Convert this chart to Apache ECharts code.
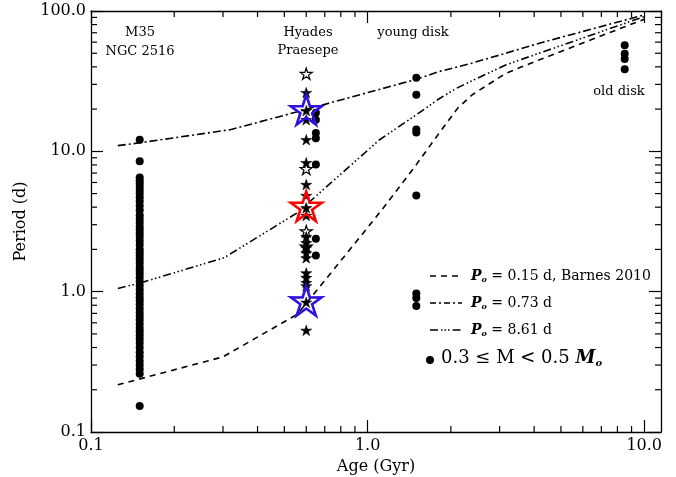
<!DOCTYPE html>
<html>
<head>
<meta charset="utf-8">
<script src="https://cdn.jsdelivr.net/npm/echarts@6/dist/echarts.min.js"></script>
<style>html,body{margin:0;padding:0;background:#fff}#c{width:676px;height:477px}</style>
</head>
<body>
<div id="c"></div>
<script>
// ---- data ----
const m35Age = 0.15;
const m35Periods = [12.1, 8.5, 6.5, 6.2, 5.9, 5.6, 5.3, 5.0, 4.7, 4.4, 4.1, 3.8, 3.5, 3.3, 3.1, 2.9, 2.75, 2.6, 2.45, 2.3, 2.15, 2.0, 1.9, 1.8, 1.7, 1.6, 1.5, 1.42, 1.34, 1.26, 1.18, 1.1, 1.03, 0.97, 0.91, 0.86, 0.81, 0.76, 0.71, 0.67, 0.63, 0.59, 0.55, 0.52, 0.49, 0.46, 0.43, 0.40, 0.37, 0.345, 0.32, 0.30, 0.28, 0.26, 0.153];
const hyadesStarAge = 0.6;
const hyadesFilledStars = [26.2, 19.5, 16.8, 12.1, 8.3, 5.8, 4.84, 3.96, 3.49, 2.46, 2.23, 2.05, 1.89, 1.74, 1.36, 1.26, 1.16, 1.1, 0.84, 0.53];
const hyadesOpenStars = [35.7, 7.5, 2.7, 2.1];
const bigBlueStars = [19.8, 0.86];
const bigRedStars = [4.06];
const hyadesDotAge = 0.65;
const hyadesDots = [18.8, 16.8, 13.5, 12.4, 8.05, 2.38, 1.81];
const youngDiskAge = 1.5;
const youngDiskPeriods = [33.4, 25.3, 14.3, 13.6, 4.84, 0.97, 0.90, 0.79];
const oldDiskAge = 8.5;
const oldDiskPeriods = [57, 49.5, 45.5, 38.5];

const dashAges   = [0.125, 0.3, 0.557, 0.66, 1.0, 1.152, 1.5, 1.82, 2.12, 2.39, 3.17, 4.18, 10.0];
const dashP      = [0.217, 0.343, 0.69, 1.04, 2.86, 4.06, 8.04, 13.6, 20.4, 25.3, 36.1, 44.9, 87.4];
const dashDotAges = [0.125, 0.15, 0.321, 0.6, 1.5, 1.82, 2.39, 3.17, 4.18, 10.0];
const dashDotP    = [10.98, 11.5, 14.3, 19.9, 32.6, 37.1, 42.6, 50.1, 59.0, 93.8];
const dash3Ages  = [0.125, 0.15, 0.303, 0.557, 0.66, 1.105, 1.5, 1.82, 2.1, 2.39, 3.17, 4.18, 10.0];
const dash3P     = [1.055, 1.15, 1.745, 3.65, 4.92, 12.1, 18.2, 23.8, 28.2, 31.9, 41.4, 50.1, 91.2];

const xMinorTicks = [0.2,0.3,0.4,0.5,0.6,0.7,0.8,0.9,2,3,4,5,6,7,8,9];
const yMinorTicks = [0.2,0.3,0.4,0.5,0.6,0.7,0.8,0.9,2,3,4,5,6,7,8,9,20,30,40,50,60,70,80,90];

// ---- chart ----
const FONT = 'DejaVu Serif';
const STAR = 'path://M50,0L61.17,34.63L97.55,34.55L68.07,55.87L79.39,90.45L50,69L20.61,90.45L31.93,55.87L2.45,34.55L38.83,34.63Z';
const XMIN = 0.1, XMAX = 11.5, YMIN = 0.1, YMAX = 100;

const pairs = (age, arr) => arr.map(v => [age, v]);
const zip = (a, b) => a.map((v, i) => [v, b[i]]);

const chart = echarts.init(document.getElementById('c'), null, {renderer: 'canvas'});

function baseX(pos) {
  return {
    type: 'log', logBase: 10, min: XMIN, max: XMAX, interval: 1, position: pos,
    axisLine: {show: true, onZero: false, lineStyle: {color: '#000', width: 1.3}},
    axisTick: {show: true, inside: true, length: 12, lineStyle: {color: '#000', width: 1.2}},
    splitLine: {show: false},
    axisLabel: {show: pos === 'bottom', showMaxLabel: false, formatter: v => Number(v).toFixed(1),
      fontFamily: FONT, fontSize: 16, color: '#000', margin: 6}
  };
}
function baseY(pos) {
  return {
    type: 'log', logBase: 10, min: YMIN, max: YMAX, interval: 1, position: pos,
    axisLine: {show: true, onZero: false, lineStyle: {color: '#000', width: 1.3}},
    axisTick: {show: true, inside: true, length: 12, lineStyle: {color: '#000', width: 1.2}},
    splitLine: {show: false},
    axisLabel: {show: pos === 'left', formatter: v => Number(v).toFixed(1),
      fontFamily: FONT, fontSize: 16, color: '#000', margin: 5}
  };
}
const xA = baseX('bottom');
xA.name = 'Age (Gyr)'; xA.nameLocation = 'middle'; xA.nameGap = 27;
xA.nameTextStyle = {fontFamily: FONT, fontSize: 16, color: '#000'};
const yA = baseY('left');
yA.name = 'Period (d)'; yA.nameLocation = 'middle'; yA.nameGap = 56;
yA.nameTextStyle = {fontFamily: FONT, fontSize: 16, color: '#000'};

const lineBase = (data, dash) => ({
  type: 'line', data, showSymbol: false, symbol: 'none', smooth: false, z: 2, silent: true,
  lineStyle: {color: '#000', width: 1.6, type: dash}
});
const dotSeries = (data) => ({
  type: 'scatter', data, symbol: 'circle', symbolSize: 8, z: 3, silent: true,
  itemStyle: {color: '#000', opacity: 1}
});

const rich = {
  p: {fontFamily: FONT, fontStyle: 'italic', fontWeight: 'bold', fontSize: 14, fill: '#000'},
  s: {fontFamily: FONT, fontStyle: 'italic', fontWeight: 'bold', fontSize: 8, fill: '#000', padding: [8, 0, 0, 0]},
  t: {fontFamily: FONT, fontSize: 14, fill: '#000'},
  P: {fontFamily: FONT, fontSize: 18, fill: '#000'},
  M: {fontFamily: FONT, fontStyle: 'italic', fontWeight: 'bold', fontSize: 18, fill: '#000'},
  S: {fontFamily: FONT, fontStyle: 'italic', fontWeight: 'bold', fontSize: 10, fill: '#000', padding: [10, 0, 0, 0]}
};
const txt = (x, y, text, size) => ({type: 'text', x, y, z: 10, silent: true,
  style: {text, fontFamily: FONT, fontSize: size || 13, fill: '#000', align: 'center', verticalAlign: 'middle'}});
const legLine = (y, dash) => ({type: 'line', z: 10, silent: true,
  shape: {x1: 430, y1: y, x2: 462, y2: y}, style: {stroke: '#000', lineWidth: 1.6, lineDash: dash}});

const starItem = (fill, stroke, bw) => ({color: fill, borderColor: stroke, borderWidth: bw, opacity: 1});

const graphics = [
  txt(140, 33, 'M35'), txt(140, 52, 'NGC 2516'),
  txt(308, 33, 'Hyades'), txt(308, 51, 'Praesepe'),
  txt(413, 33, 'young disk'), txt(619, 92, 'old disk'),
  legLine(276, [6, 5]), legLine(303, [6, 3, 2, 3]), legLine(330, [8, 3, 1.5, 2, 1.5, 2, 1.5, 3]),
  {type: 'circle', z: 10, silent: true, shape: {cx: 430, cy: 360, r: 4}, style: {fill: '#000'}},
  {type: 'text', x: 471, y: 276, z: 10, silent: true, style: {text: '{p|P}{s|o}{t| = 0.15 d, Barnes 2010}', rich, verticalAlign: 'middle', align: 'left'}},
  {type: 'text', x: 471, y: 303, z: 10, silent: true, style: {text: '{p|P}{s|o}{t| = 0.73 d}', rich, verticalAlign: 'middle', align: 'left'}},
  {type: 'text', x: 471, y: 330, z: 10, silent: true, style: {text: '{p|P}{s|o}{t| = 8.61 d}', rich, verticalAlign: 'middle', align: 'left'}},
  {type: 'text', x: 441, y: 358, z: 10, silent: true, style: {text: '{P|0.3 ≤ M < 0.5 }{M|M}{S|o}', rich, verticalAlign: 'middle', align: 'left'}}
];

chart.setOption({
  animation: false,
  backgroundColor: '#fff',
  grid: {left: 91, right: 15, top: 11, bottom: 45, containLabel: false, outerBoundsMode: 'none'},
  xAxis: [xA, baseX('top')],
  yAxis: [yA, baseY('right')],
  series: [
    lineBase(zip(dashAges, dashP), [6, 5]),
    lineBase(zip(dashDotAges, dashDotP), [8, 3, 2, 3]),
    lineBase(zip(dash3Ages, dash3P), [8, 3, 1.5, 2.5, 1.5, 2.5, 1.5, 3]),
    dotSeries(pairs(m35Age, m35Periods)),
    dotSeries(pairs(hyadesDotAge, hyadesDots)),
    dotSeries(pairs(youngDiskAge, youngDiskPeriods)),
    dotSeries(pairs(oldDiskAge, oldDiskPeriods)),
    {type: 'scatter', data: pairs(hyadesStarAge, hyadesOpenStars), symbol: STAR, symbolSize: [12, 11.4], z: 4, silent: true,
      itemStyle: starItem('#fff', '#000', 1.2)},
    {type: 'scatter', data: pairs(hyadesStarAge, hyadesFilledStars), symbol: STAR, symbolSize: [11, 10.4], z: 5, silent: true,
      itemStyle: starItem('#000', '#000', 0.6)},
    {type: 'scatter', data: pairs(hyadesStarAge, bigBlueStars), symbol: STAR, symbolSize: [31, 29.5], z: 6, silent: true,
      itemStyle: starItem('rgba(0,0,0,0)', '#3311dd', 2.6)},
    {type: 'scatter', data: pairs(hyadesStarAge, bigRedStars), symbol: STAR, symbolSize: [31, 29.5], z: 6, silent: true,
      itemStyle: starItem('rgba(0,0,0,0)', '#ff0000', 2.6)}
  ],
  graphic: graphics
});

// minor ticks placed through the axes' own scales
const tickStyle = {stroke: '#000', lineWidth: 1.2};
const minor = [];
const yb = chart.convertToPixel({yAxisIndex: 0}, YMIN), yt = chart.convertToPixel({yAxisIndex: 0}, YMAX);
const xl = chart.convertToPixel({xAxisIndex: 0}, XMIN), xr = chart.convertToPixel({xAxisIndex: 0}, XMAX);
xMinorTicks.forEach(v => {
  const x = chart.convertToPixel({xAxisIndex: 0}, v);
  minor.push({type: 'line', z: 9, silent: true, shape: {x1: x, y1: yb, x2: x, y2: yb - 6}, style: tickStyle});
  minor.push({type: 'line', z: 9, silent: true, shape: {x1: x, y1: yt, x2: x, y2: yt + 6}, style: tickStyle});
});
yMinorTicks.forEach(v => {
  const y = chart.convertToPixel({yAxisIndex: 0}, v);
  minor.push({type: 'line', z: 9, silent: true, shape: {x1: xl, y1: y, x2: xl + 6, y2: y}, style: tickStyle});
  minor.push({type: 'line', z: 9, silent: true, shape: {x1: xr, y1: y, x2: xr - 6, y2: y}, style: tickStyle});
});
chart.setOption({graphic: graphics.concat(minor)});
</script>
</body>
</html>
